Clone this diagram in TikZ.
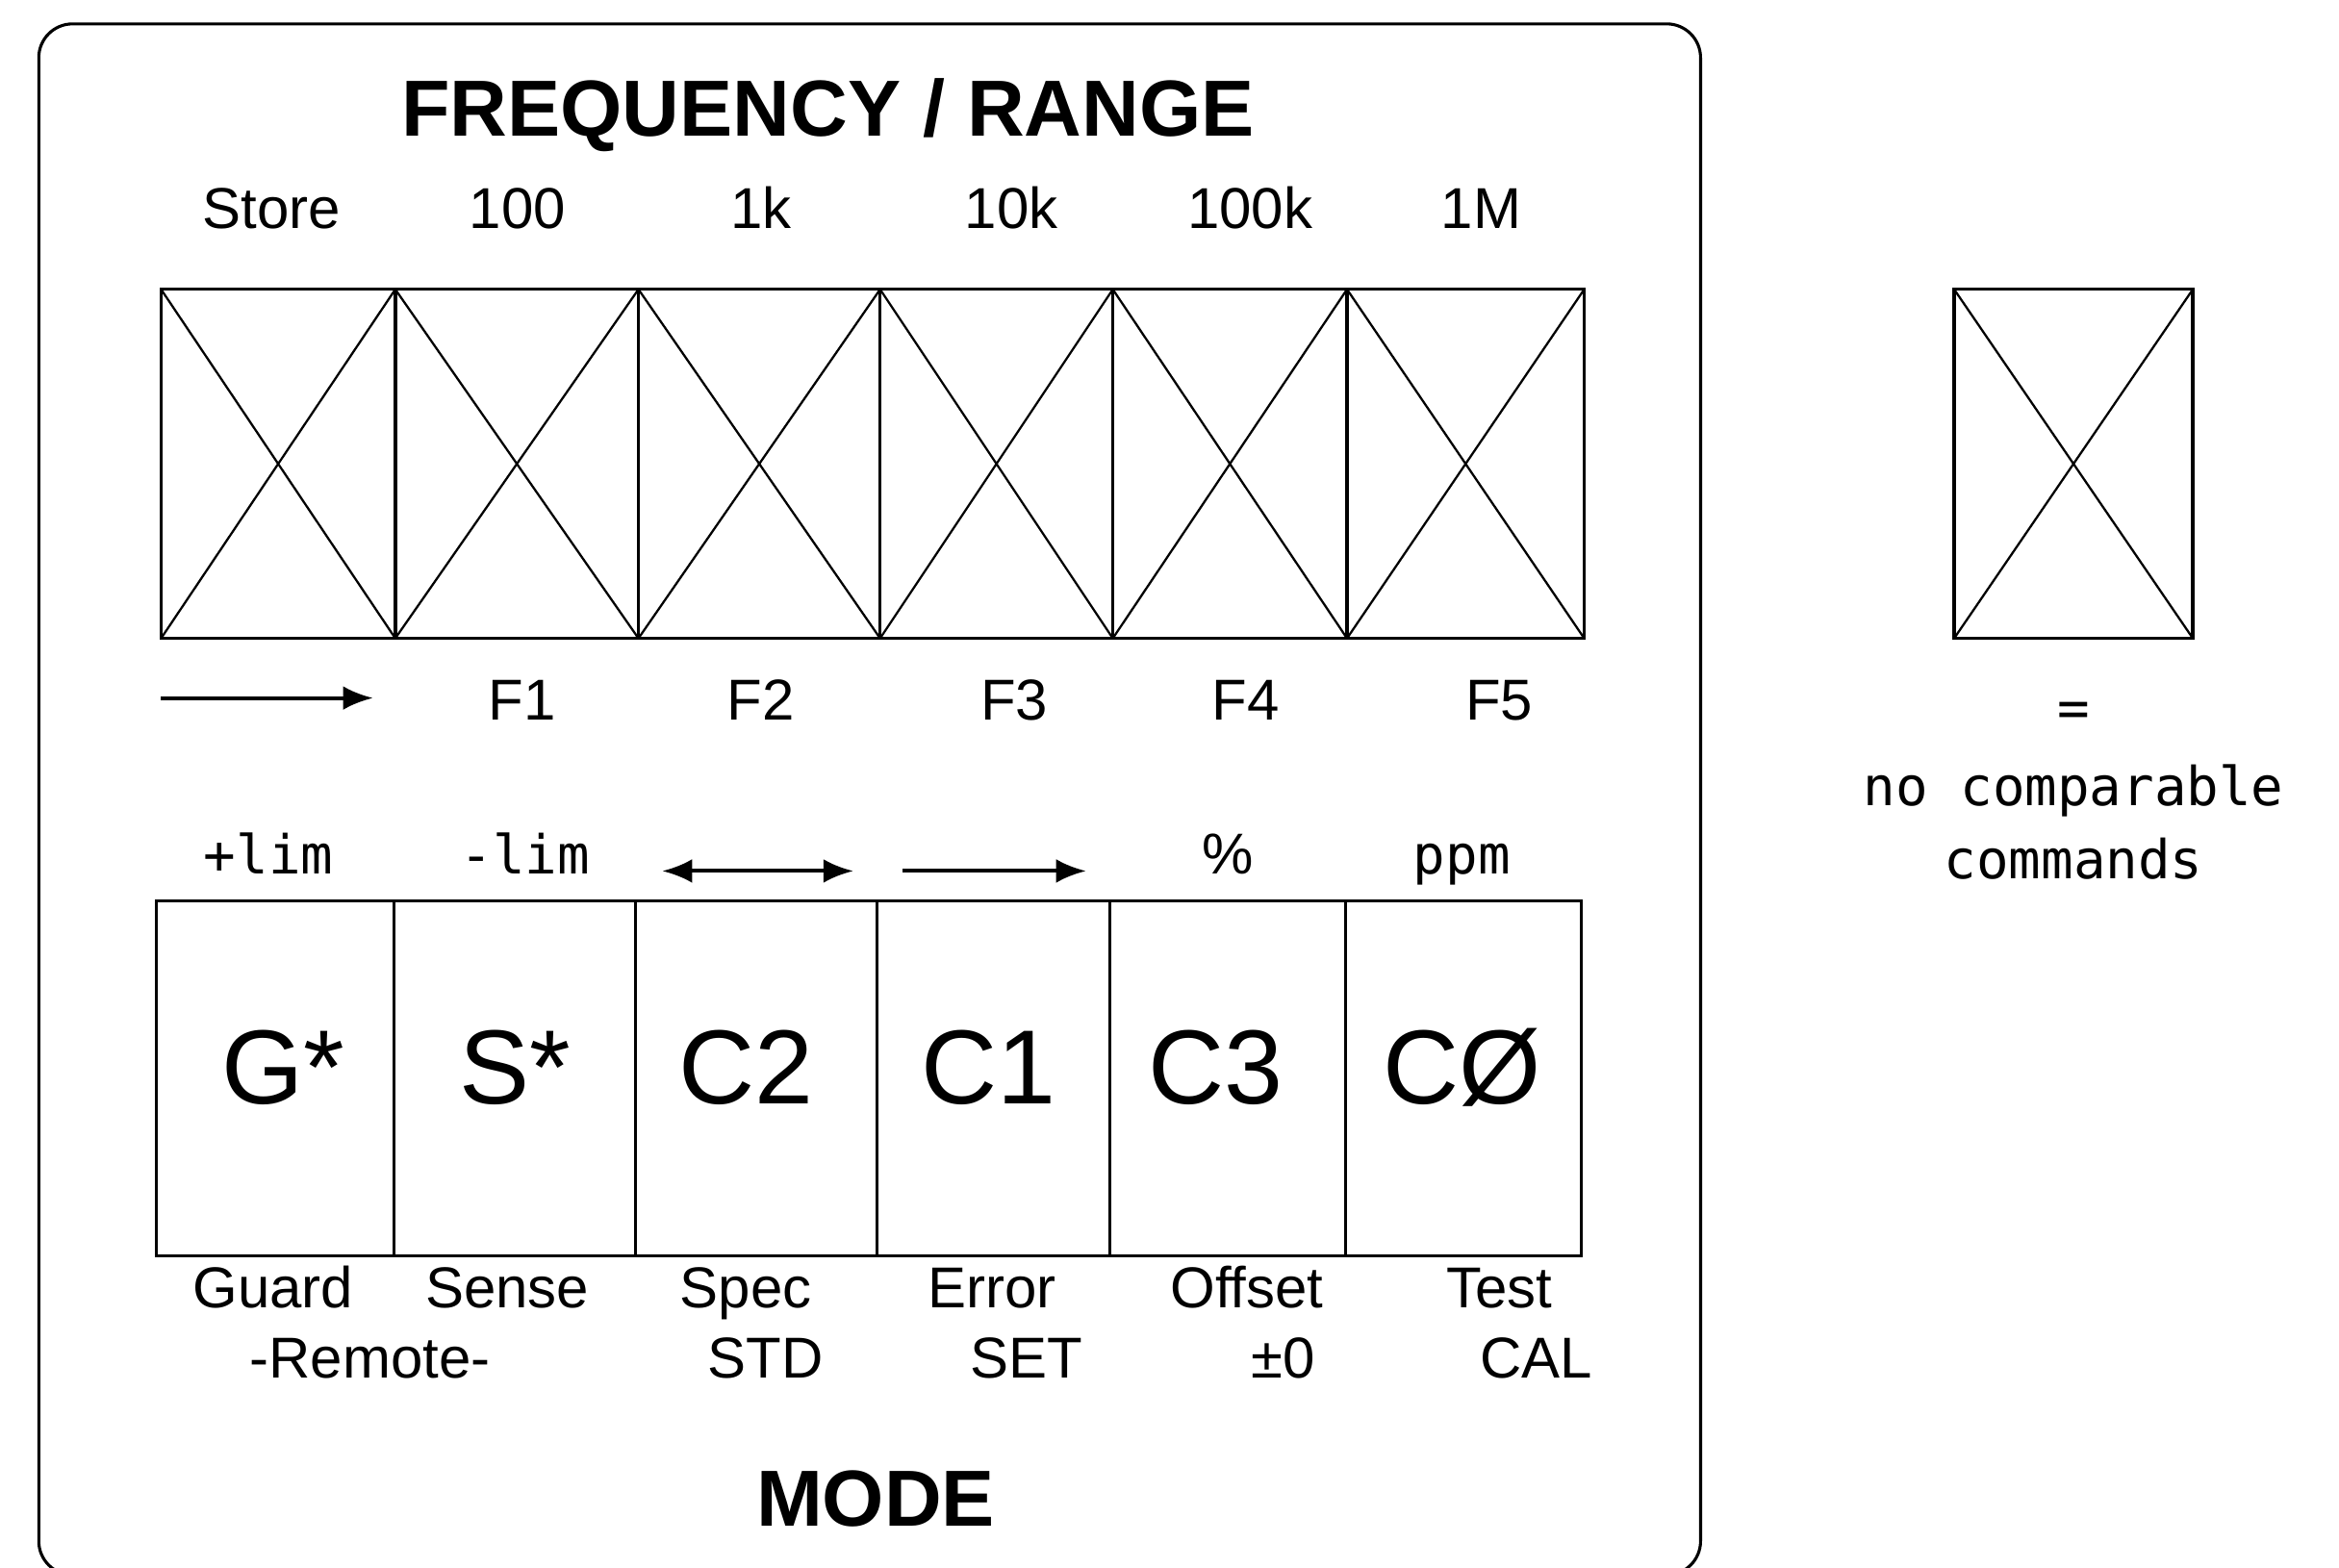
\documentclass[tikz,border=0pt]{standalone}
\usepackage{fontspec}
\setmainfont{Liberation Sans}
\newfontfamily\plotfont{DejaVu Sans Mono}
\usetikzlibrary{arrows.meta}

\tikzset{every picture/.style={line width=0.75pt}}
\tikzset{
  headtxt/.style={font=\fontsize{40}{46}\selectfont\bfseries, inner sep=0.75pt, anchor=base},
  labtxt/.style={font=\fontsize{29}{34}\selectfont, inner sep=0.75pt, anchor=base},
  limtxt/.style={font=\plotfont\fontsize{27}{32}\selectfont, inner sep=0.75pt, anchor=base},
  keytxt/.style={font=\fontsize{53}{58}\selectfont, inner sep=0.75pt, anchor=base},
  notetxt/.style={font=\plotfont\fontsize{27}{37}\selectfont, inner sep=0.75pt, anchor=base},
  cellline/.style={line width=1.6pt},
  crossline/.style={line width=1.1pt},
  keyarrow/.style={line width=1.9pt, -{Latex[length=15pt,width=12pt]}},
}

\begin{document}
\begin{tikzpicture}[x=0.75pt,y=0.75pt,yscale=-1,xscale=1]
\useasboundingbox (0,0) rectangle (1568,1051);
\clip (0,0) rectangle (1568,1051);

%Panel frame
\draw [line width=1.5pt, rounded corners=17pt] (26,16) rectangle (1140,1056);

%Title
\node [headtxt] (title) at (555,91) {FREQUENCY / RANGE};

%Range labels
\foreach \x/\t/\n in {182/Store/rs,347/100/r2,510/1k/r3,678/10k/r4,838/100k/r5,993/1M/r6}
  \node [labtxt] (\n) at (\x,153) {\t};

%Range keys (crossed out)
\foreach \xa/\xb in {108/265,265/428,428/590,590/746,746/903,903/1062}{
  \draw [crossline] (\xa,194) -- (\xb,428) (\xb,194) -- (\xa,428);
  \draw [cellline] (\xa,194) rectangle (\xb,428);
}

%Function labels
\coordinate (fa) at (108,468);
\coordinate (fb) at (250,468);
\draw [keyarrow] (fa) -- (fb);
\foreach \x/\t in {350/F1,510/F2,680/F3,835/F4,1005/F5}
  \node [labtxt] (\t) at (\x,483) {\t};

%Mode labels above
\node [limtxt] (plim) at (180,586) {+lim};
\node [limtxt] (mlim) at (352,586) {-lim};
\coordinate (da) at (444,584);
\coordinate (db) at (572,584);
\draw [keyarrow, {Latex[length=15pt,width=12pt]}-{Latex[length=15pt,width=12pt]}] (da) -- (db);
\coordinate (ea) at (605,584);
\coordinate (eb) at (728,584);
\draw [keyarrow] (ea) -- (eb);
\node [labtxt] (pct) at (823,586) {\%};
\node [limtxt] (ppm) at (980,586) {ppm};

%Mode keys
\foreach \xa/\xb in {105/264,264/426,426/588,588/744,744/902,902/1060}
  \draw [cellline] (\xa,604) rectangle (\xb,842);
\foreach \x/\t/\n in {190/G*/kg,345/S*/ks,500/C2/kc2,663/C1/kc1,815/C3/kc3,980/CØ/kc0}
  \node [keytxt] (\n) at (\x,740) {\t};

%Mode labels below
\foreach \x/\t/\n in {183/Guard/lg,340/Sense/ls,500/Spec/lsp,665/Error/ler,836/Offset/lof,1005/Test/lte}
  \node [labtxt] (\n) at (\x,877) {\t};
\foreach \x/\t/\n in {248/-Remote-/lrm,513/STD/lstd,688/SET/lset,860/±0/lzero,1030/CAL/lcal}
  \node [labtxt] (\n) at (\x,924) {\t};

\node [headtxt] (mode) at (587,1023) {MODE};

%Legend
\draw [crossline] (1310,194) -- (1470,428) (1470,194) -- (1310,428);
\draw [cellline] (1310,194) rectangle (1470,428);
\node [notetxt] (eq) at (1390,487) {=};
\node [notetxt] (nc1) at (1390,540) {no comparable};
\node [notetxt] (nc2) at (1390,589) {commands};

\end{tikzpicture}
\end{document}
